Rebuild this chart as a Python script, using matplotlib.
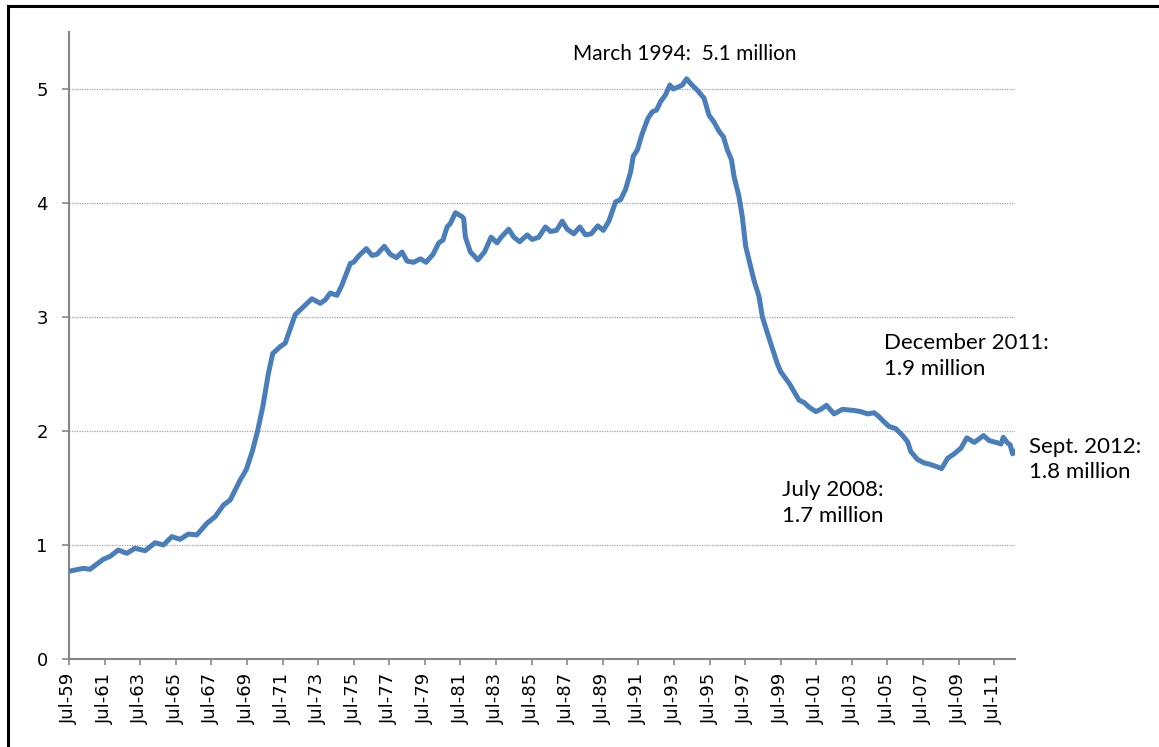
import matplotlib
matplotlib.use("Agg")
from matplotlib import pyplot as plt
from matplotlib.lines import Line2D

plt.rcParams['font.family'] = ['DejaVu Sans']

# decimal year (Jul-59 = 1959.5) and value in millions
dates = [1959.5, 1960.3, 1960.68, 1961.43, 1961.81, 1962.27, 1962.75, 1963.21, 1963.78, 1964.34,
         1964.81, 1965.28, 1965.74, 1966.21, 1966.68, 1967.25, 1967.71, 1968.18, 1968.56, 1969.12,
         1969.46, 1969.8, 1970.1, 1970.4, 1970.7, 1970.95, 1971.37, 1971.65, 1972.21, 1972.68,
         1973.15, 1973.62, 1973.9, 1974.18, 1974.56, 1974.84, 1975.31, 1975.49, 1975.78, 1976.21,
         1976.53, 1976.81, 1977.22, 1977.56, 1977.9, 1978.22, 1978.5, 1978.87, 1979.25, 1979.57,
         1979.96, 1980.28, 1980.52, 1980.75, 1980.93, 1981.22, 1981.59, 1981.68, 1981.78, 1982.06,
         1982.25, 1982.47, 1982.85, 1983.22, 1983.56, 1983.79, 1984.21, 1984.5, 1984.83, 1985.25,
         1985.53, 1985.9, 1986.28, 1986.56, 1986.9, 1987.22, 1987.5, 1987.87, 1988.21, 1988.53,
         1988.85, 1989.22, 1989.53, 1989.84, 1990.22, 1990.5, 1990.78, 1991.06, 1991.21, 1991.44,
         1991.72, 1992.03, 1992.28, 1992.52, 1992.75, 1993.03, 1993.27, 1993.46, 1993.78, 1993.97,
         1994.21, 1994.48, 1994.81, 1995.19, 1995.47, 1995.75, 1996.03, 1996.28, 1996.5, 1996.73,
         1996.88, 1997.15, 1997.34, 1997.53, 1997.81, 1998.0, 1998.28, 1998.47, 1998.75, 1999.03,
         1999.31, 1999.5, 1999.97, 2000.25, 2000.53, 2000.81, 2001.09, 2001.47, 2001.75, 2002.07,
         2002.5, 2002.97, 2003.62, 2004.0, 2004.38, 2004.75, 2005.03, 2005.31, 2005.59, 2005.97,
         2006.35, 2006.63, 2006.81, 2007.19, 2007.56, 2007.84, 2008.22, 2008.54, 2008.88, 2009.25,
         2009.63, 2009.96, 2010.38, 2010.9, 2011.22, 2011.6, 2011.88, 2012.01, 2012.22, 2012.4,
         2012.53, 2012.67]
workers = [0.77, 0.795, 0.787, 0.875, 0.90, 0.956, 0.927, 0.971, 0.95, 1.02,
           1.00, 1.073, 1.05, 1.096, 1.088, 1.19, 1.248, 1.35, 1.395, 1.57,
           1.66, 1.82, 2.0, 2.22, 2.5, 2.68, 2.74, 2.77, 3.02, 3.09,
           3.16, 3.12, 3.15, 3.21, 3.19, 3.28, 3.47, 3.48, 3.535, 3.60,
           3.54, 3.55, 3.62, 3.55, 3.52, 3.57, 3.49, 3.48, 3.51, 3.48,
           3.55, 3.65, 3.675, 3.79, 3.82, 3.915, 3.88, 3.865, 3.70, 3.57,
           3.54, 3.50, 3.57, 3.70, 3.65, 3.70, 3.77, 3.70, 3.66, 3.72,
           3.68, 3.70, 3.79, 3.75, 3.76, 3.84, 3.77, 3.73, 3.79, 3.72,
           3.73, 3.80, 3.76, 3.84, 4.01, 4.03, 4.12, 4.27, 4.41, 4.465,
           4.61, 4.74, 4.80, 4.815, 4.89, 4.95, 5.035, 5.00, 5.02, 5.035,
           5.09, 5.04, 4.99, 4.92, 4.77, 4.71, 4.63, 4.58, 4.465, 4.38,
           4.23, 4.06, 3.88, 3.62, 3.44, 3.32, 3.18, 3.00, 2.86, 2.725,
           2.59, 2.52, 2.42, 2.345, 2.27, 2.25, 2.21, 2.17, 2.19, 2.225,
           2.15, 2.19, 2.18, 2.17, 2.15, 2.16, 2.125, 2.08, 2.04, 2.02,
           1.96, 1.905, 1.82, 1.75, 1.72, 1.71, 1.69, 1.67, 1.76, 1.80,
           1.85, 1.94, 1.90, 1.96, 1.915, 1.90, 1.886, 1.945, 1.90, 1.877,
           1.80, 1.82]

tick_pos = [1959.5 + 2 * i for i in range(27)]
tick_labels = ['Jul-59', 'Jul-61', 'Jul-63', 'Jul-65', 'Jul-67', 'Jul-69', 'Jul-71', 'Jul-73',
               'Jul-75', 'Jul-77', 'Jul-79', 'Jul-81', 'Jul-83', 'Jul-85', 'Jul-87', 'Jul-89',
               'Jul-91', 'Jul-93', 'Jul-95', 'Jul-97', 'Jul-99', 'Jul-01', 'Jul-03', 'Jul-05',
               'Jul-07', 'Jul-09', 'Jul-11']

# annotations: (x, y, text, size)
notes = [
    (1987.83, 5.31, 'March 1994:  5.1 million', 15),
    (2005.29, 2.66, 'December 2011:\n1.9 million', 16),
    (1999.56, 1.37, 'July 2008:\n1.7 million', 16),
    (2013.47, 1.75, 'Sept. 2012:\n1.8 million', 16),
]

grey = '#868686'

fig = plt.figure(figsize=(11.59, 7.47), dpi=100)
ax = fig.add_axes([69 / 1159, 1 - 659 / 747, (1015 - 69) / 1159, (659 - 32) / 747])

ax.plot(dates, workers, color='#4a7ebb', lw=3.6, solid_joinstyle='round', zorder=3)

ax.set_xlim(1959.5, 2012.667)
ax.set_ylim(0, 5.5)
ax.set_yticks([0, 1, 2, 3, 4, 5])
ax.set_yticklabels(['0', '1', '2', '3', '4', '5'])
ax.set_xticks(tick_pos)
ax.set_xticklabels(tick_labels, rotation=90)

for s in ['top', 'right']:
    ax.spines[s].set_visible(False)
for s in ['left', 'bottom']:
    ax.spines[s].set_color(grey)
    ax.spines[s].set_linewidth(1.5)

ax.tick_params(axis='y', colors=grey, length=4.8, width=1.2, pad=10.5, labelsize=13, labelcolor='black')
ax.tick_params(axis='x', colors=grey, length=4, width=1.2, pad=6, labelsize=13, labelcolor='black')

for v in [1, 2, 3, 4, 5]:
    ax.axhline(v, color='#a0a0a0', lw=0.9, ls=(0, (1, 1)), zorder=1)

for x, y, t, size in notes:
    ax.text(x, y, t, fontsize=size, family=['Lato', 'DejaVu Sans'], ha='left', va='center',
            linespacing=1.35, clip_on=False)

# black frame round the chart (left and top edges visible)
fig.add_artist(Line2D([8 / 1159, 8 / 1159], [0, 1 - 6 / 747], transform=fig.transFigure,
                      color='black', lw=2.2))
fig.add_artist(Line2D([8 / 1159, 1], [1 - 6 / 747, 1 - 6 / 747], transform=fig.transFigure,
                      color='black', lw=2.2))

fig.savefig('out.png', dpi=100)
